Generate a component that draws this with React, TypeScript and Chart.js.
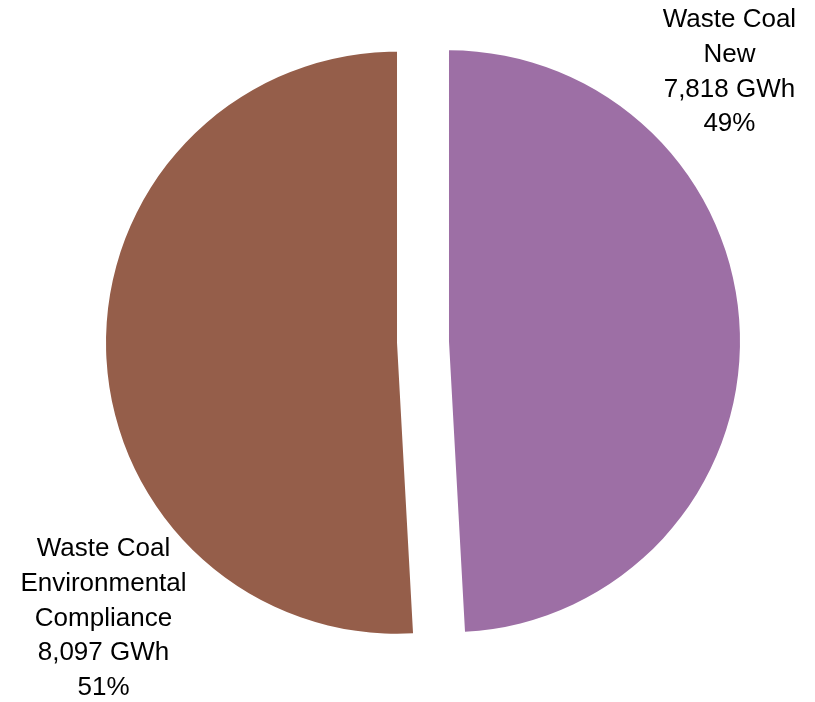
import React, { useEffect, useRef } from "react";
import { Chart, registerables } from "chart.js";

Chart.register(...registerables);

// ---- Data ----
const categories = ["Waste Coal New", "Waste Coal Environmental Compliance"];
const nameLines = [["Waste Coal", "New"], ["Waste Coal", "Environmental", "Compliance"]];
const valuesGWh = [7818, 8097];
const valueLabels = ["7,818 GWh", "8,097 GWh"];
const percentLabels = ["49%", "51%"];

// ---- Style ----
const sliceColors = ["#9D6FA5", "#955E4A"];
const EXPLODE = 26;
const RADIUS = 291;
const FONT = "26px 'Liberation Sans', Arial, sans-serif";
const LINE_HEIGHT = 34.8;
// label block centre, as multiples of the radius from the pie centre
const labelAnchors = [
  [1.053, -0.928],
  [-1.098, 0.95],
];

const explodePlugin = {
  id: "explode",
  afterDatasetsUpdate(chart: any) {
    const meta = chart.getDatasetMeta(0);
    meta.data.forEach((arc: any) => {
      const mid = (arc.startAngle + arc.endAngle) / 2;
      arc.x += Math.cos(mid) * EXPLODE;
      arc.y += Math.sin(mid) * EXPLODE;
    });
  },
};

const labelPlugin = {
  id: "sliceLabels",
  afterDraw(chart: any) {
    const { ctx, chartArea } = chart;
    const cx = (chartArea.left + chartArea.right) / 2;
    const cy = (chartArea.top + chartArea.bottom) / 2;
    const meta = chart.getDatasetMeta(0);
    ctx.save();
    ctx.font = FONT;
    ctx.fillStyle = "#000000";
    ctx.textAlign = "center";
    ctx.textBaseline = "middle";
    meta.data.forEach((arc: any, i: number) => {
      const r = arc.outerRadius;
      const lines = [...nameLines[i], valueLabels[i], percentLabels[i]];
      const bx = cx + labelAnchors[i][0] * r;
      const by = cy + labelAnchors[i][1] * r;
      const startY = by - ((lines.length - 1) * LINE_HEIGHT) / 2;
      lines.forEach((t, k) => ctx.fillText(t, bx, startY + k * LINE_HEIGHT));
    });
    ctx.restore();
  },
};

export default function App() {
  const ref = useRef<HTMLCanvasElement | null>(null);
  useEffect(() => {
    if (!ref.current) return;
    const chart = new Chart(ref.current, {
      type: "pie",
      data: {
        labels: categories,
        datasets: [
          {
            data: valuesGWh,
            backgroundColor: sliceColors,
            borderWidth: 0,
          },
        ],
      },
      options: {
        responsive: false,
        animation: false,
        radius: RADIUS,
        layout: { padding: { left: 31, right: 0, top: 38, bottom: 56 } },
        plugins: {
          legend: { display: false },
          tooltip: { enabled: false },
        },
      } as any,
      plugins: [explodePlugin, labelPlugin],
    });
    return () => chart.destroy();
  }, []);
  return (
    <div style={{ position: "absolute", left: 0, top: 0, width: 815, height: 702, background: "#fff" }}>
      <canvas ref={ref} width={815} height={702} style={{ display: "block" }} />
    </div>
  );
}
